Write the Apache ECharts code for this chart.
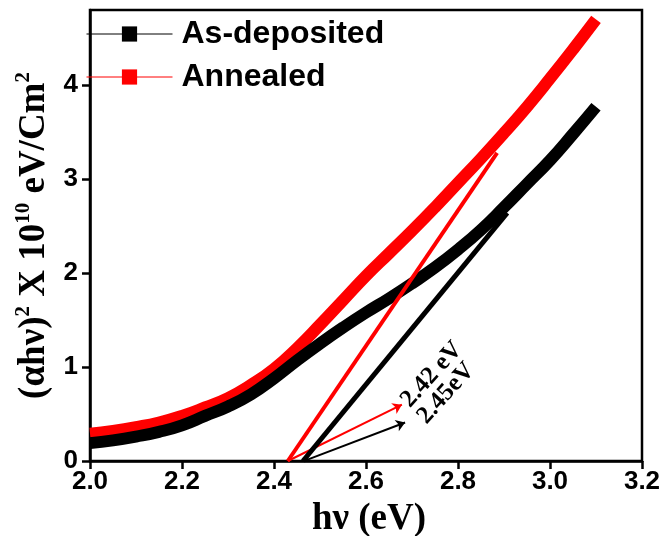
<!DOCTYPE html>
<html><head><meta charset="utf-8">
<script src="https://cdn.jsdelivr.net/npm/echarts@6/dist/echarts.min.js"></script>
<style>html,body{margin:0;padding:0;background:#fff}#c{width:659px;height:536px}</style>
</head><body><div id="c"></div>
<script>
const energy      = [2.00,2.05,2.10,2.15,2.20,2.25,2.30,2.35,2.40,2.45,2.50,2.55,2.60,2.65,2.70,2.75,2.80,2.85,2.90,2.95,3.00,3.05,3.10];
const asDeposited = [0.19,0.22,0.26,0.31,0.38,0.48,0.58,0.71,0.88,1.07,1.25,1.42,1.58,1.73,1.89,2.06,2.25,2.46,2.70,2.95,3.20,3.48,3.77];
const annealed    = [0.29,0.32,0.36,0.41,0.48,0.57,0.67,0.81,0.98,1.20,1.45,1.71,1.97,2.21,2.45,2.70,2.96,3.22,3.49,3.77,4.07,4.38,4.70];
const tangentAnnealed  = [[2.43,0],[2.885,3.28]];
const tangentDeposited = [[2.463,0],[2.907,2.64]];
const arrowAnnealed    = [[2.43,0],[2.678,0.60]];
const arrowDeposited   = [[2.47,0.01],[2.685,0.41]];
const gapLabels = [{value:[2.743,0.92], text:'2.42 eV'},{value:[2.774,0.72], text:'2.45eV'}];
const yTicks = [0,1,2,3,4];

const SANS = 'Arial, "Liberation Sans", sans-serif';
const SERIF = '"Times New Roman", "Liberation Serif", serif';

const zip = (xs, ys) => xs.map((x,i)=>[x, ys[i]]);
const chart = echarts.init(document.getElementById('c'));
chart.setOption({
  animation:false,
  backgroundColor:'#fff',
  grid:{left:90,right:17,top:10,bottom:75,show:true,borderColor:'#000',borderWidth:2.5,backgroundColor:'transparent',
        containLabel:false,outerBoundsMode:'none'},
  legend:{
    data:['As-deposited','Annealed'], orient:'vertical', left:81, top:13,
    itemWidth:86, itemHeight:19, itemGap:11,
    lineStyle:{width:1},
    textStyle:{fontSize:32,fontWeight:'bold',fontFamily:SANS,color:'#000',padding:[0,0,0,4]}
  },
  xAxis:{
    type:'value', min:2.0, max:3.2, interval:0.2,
    name:'hν (eV)', nameLocation:'middle', nameGap:40,
    nameTextStyle:{fontSize:37,fontWeight:'bold',fontFamily:SERIF,color:'#000',padding:[0,0,0,6]},
    axisLine:{lineStyle:{color:'#000',width:2.5}},
    axisTick:{show:true,inside:false,length:8,lineStyle:{width:2.5,color:'#000'}},
    axisLabel:{fontSize:26,fontWeight:'bold',fontFamily:SANS,color:'#000',margin:8,formatter:v=>v.toFixed(1)},
    splitLine:{show:false}
  },
  yAxis:{
    type:'value', min:0, max:4.8,
    name:'{t|(αhν)}{s|2}{t| X 10}{s|10}{t| eV/Cm}{s|2}', nameLocation:'middle', nameGap:34,
    nameTextStyle:{rich:{
      t:{fontSize:37,fontWeight:'bold',fontFamily:SERIF,color:'#000',verticalAlign:'bottom'},
      s:{fontSize:21,fontWeight:'bold',fontFamily:SERIF,color:'#000',verticalAlign:'bottom',padding:[0,0,19,0]}
    }},
    axisLine:{lineStyle:{color:'#000',width:2.5}},
    axisTick:{show:true,inside:false,length:8,customValues:yTicks,lineStyle:{width:2.5,color:'#000'}},
    axisLabel:{fontSize:26,fontWeight:'bold',fontFamily:SANS,color:'#000',margin:12,customValues:yTicks},
    splitLine:{show:false}
  },
  series:[
    {name:'Annealed',type:'line',data:zip(energy,annealed),smooth:true,symbol:'rect',showSymbol:false,z:2,
     color:'#ff0000',lineStyle:{width:12,color:'#ff0000',cap:'butt'}},
    {name:'As-deposited',type:'line',data:zip(energy,asDeposited),smooth:true,symbol:'rect',showSymbol:false,z:3,
     color:'#000',lineStyle:{width:12,color:'#000',cap:'butt'}},
    {name:'tanA',type:'line',data:tangentAnnealed,symbol:'none',z:5,lineStyle:{width:4,color:'#ff0000'}},
    {name:'tanD',type:'line',data:tangentDeposited,symbol:'none',z:5,lineStyle:{width:5,color:'#000'}},
    {name:'arrows',type:'line',data:[],z:6,
     markLine:{silent:true,symbol:['none','arrow'],symbolSize:9,label:{show:false},animation:false,
       data:[
         [{coord:arrowAnnealed[0],lineStyle:{color:'#ff0000',width:2,type:'solid'}},{coord:arrowAnnealed[1]}],
         [{coord:arrowDeposited[0],lineStyle:{color:'#000',width:2,type:'solid'}},{coord:arrowDeposited[1]}]
       ]}},
    {name:'labels',type:'scatter',symbolSize:0,z:7,color:'#000',
     data:gapLabels.map(d=>({value:d.value,label:{formatter:d.text}})),
     label:{show:true,position:'inside',rotate:48,fontSize:25,fontWeight:'bold',fontFamily:SERIF,color:'#000',
            textBorderWidth:0,opacity:1}}
  ]
});
</script>
</body></html>
